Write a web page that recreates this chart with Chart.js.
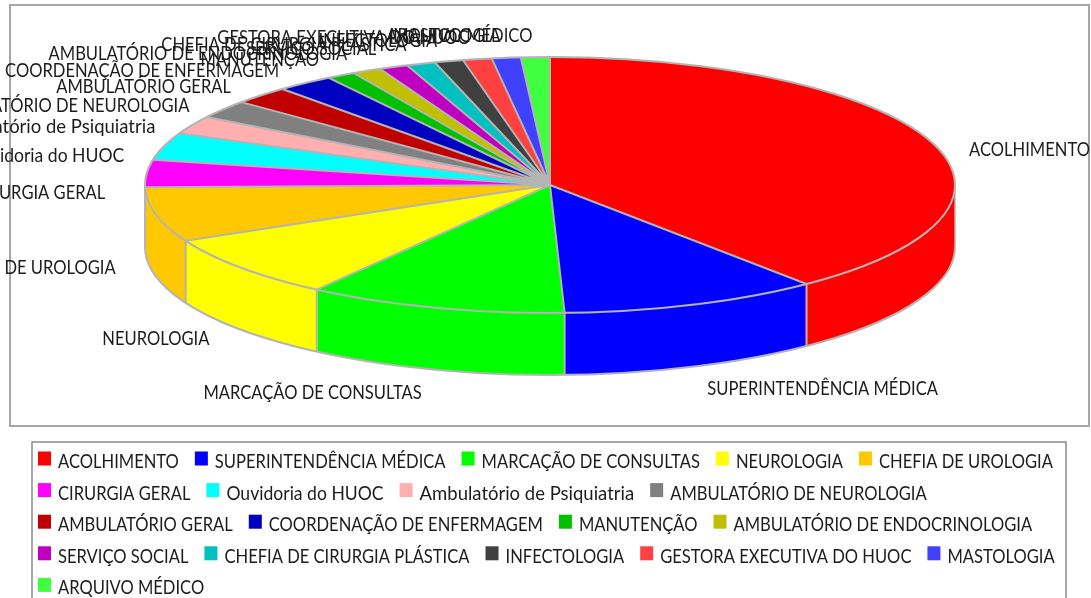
<!DOCTYPE html>
<html>
<head>
<meta charset="utf-8">
<style>html,body{margin:0;padding:0;background:#fff;overflow:hidden}canvas{display:block;filter:blur(0.4px)}</style>
<script src="https://cdn.jsdelivr.net/npm/chart.js@4"></script>
</head>
<body>
<canvas id="c" width="1091" height="598"></canvas>
<script>
const categories = ["ACOLHIMENTO","SUPERINTENDÊNCIA MÉDICA","MARCAÇÃO DE CONSULTAS","NEUROLOGIA","CHEFIA DE UROLOGIA","CIRURGIA GERAL","Ouvidoria do HUOC","Ambulatório de Psiquiatria","AMBULATÓRIO DE NEUROLOGIA","AMBULATÓRIO GERAL","COORDENAÇÃO DE ENFERMAGEM","MANUTENÇÃO","AMBULATÓRIO DE ENDOCRINOLOGIA","SERVIÇO SOCIAL","CHEFIA DE CIRURGIA PLÁSTICA","INFECTOLOGIA","GESTORA EXECUTIVA DO HUOC","MASTOLOGIA","ARQUIVO MÉDICO"];
const values = [34,9,9,7,6,3,3,2,2,2,2,1,1,1,1,1,1,1,1];
const colors = ["#ff0000","#0000ff","#00ff00","#ffff00","#ffc800","#ff00ff","#00ffff","#ffafaf","#808080","#c00000","#0000c0","#00c000","#c0c000","#c000c0","#00c0c0","#404040","#ff4040","#4040ff","#40ff40"];

const CX = 550, CY = 185, RX = 405, RY = 128, DEPTH = 62;
const LINE = "#b4b4b4", FONT = '20px Lato, "Liberation Sans", sans-serif', INK = "#1c1c1c";

// The reference face is narrower in capitals than in lower case.
function squeeze(t) {
  const letters = t.replace(/[^\p{L}]/gu, "");
  const frac = letters.replace(/\p{Lu}/gu, "").length / letters.length;
  return 0.828 + 0.115 * frac * frac;
}
function textW(c, t) { return c.measureText(t).width * squeeze(t); }
function squeezedText(c, t, x, y, align) {
  const left = align === "right" ? x - textW(c, t) : x;
  c.save();
  c.translate(left, y);
  c.scale(squeeze(t), 1);
  c.textAlign = "left";
  c.fillText(t, 0, 0);
  c.restore();
}

const pie3d = {
  id: "pie3d",
  beforeDraw(chart) {
    const c = chart.ctx;
    c.save();
    c.strokeStyle = "#a6a6a6"; c.lineWidth = 2;
    c.strokeRect(10, 5, 1079, 421);
    c.restore();
  },
  beforeDatasetsDraw(chart) {
    const c = chart.ctx, arcs = chart.getDatasetMeta(0).data, e0 = arcs[0];
    const place = (d) => { c.translate(CX, CY + d); c.scale(RX / RY, 1); c.translate(-e0.x, -e0.y); };
    for (let d = DEPTH; d >= 1; d--) {
      c.save(); place(d);
      arcs.forEach(a => a.draw(c));
      c.restore();
    }
    c.save(); place(0);
  },
  afterDatasetsDraw(chart) {
    const c = chart.ctx, arcs = chart.getDatasetMeta(0).data;
    c.restore();
    c.save();
    c.strokeStyle = LINE; c.lineWidth = 2; c.lineJoin = "round";
    c.beginPath(); c.ellipse(CX, CY + DEPTH, RX, RY, 0, 0, Math.PI); c.stroke();
    c.lineWidth = 1.5;
    c.beginPath(); c.moveTo(CX + RX, CY); c.lineTo(CX + RX, CY + DEPTH); c.moveTo(CX - RX, CY); c.lineTo(CX - RX, CY + DEPTH); c.stroke();
    c.lineWidth = 2;
    arcs.forEach(a => {
      const s = Math.sin(a.endAngle);
      if (s > 0) {
        const x = CX + RX * Math.cos(a.endAngle), y = CY + RY * s;
        c.beginPath(); c.moveTo(x, y); c.lineTo(x, y + DEPTH); c.stroke();
      }
    });
    c.beginPath();
    arcs.forEach(a => {
      c.moveTo(CX, CY);
      c.lineTo(CX + RX * Math.cos(a.startAngle), CY + RY * Math.sin(a.startAngle));
    });
    c.stroke();
    c.beginPath(); c.ellipse(CX, CY, RX, RY, 0, 0, Math.PI * 2); c.stroke();
    c.font = FONT; c.fillStyle = INK; c.textBaseline = "middle";
    arcs.forEach((a, i) => {
      const mid = (a.startAngle + a.endAngle) / 2;
      const cs = Math.cos(mid), sn = Math.sin(mid);
      const x = CX + 445 * cs - (cs < 0 ? 1.5 : 0);
      const y = 208 + 173 * sn + (sn > 0 ? 19 : 0);
      squeezedText(c, categories[i], x, y, cs >= 0 ? "left" : "right");
    });
    c.restore();
  },
  afterDraw(chart) {
    const c = chart.ctx, left = 38, limit = 1064, box = 13, gapText = 7, gapItem = 16, rowH = 31.6, top = 461;
    c.save();
    c.strokeStyle = "#8c8c8c"; c.lineWidth = 1.5;
    c.strokeRect(32, 442, 1034, 170);
    c.font = FONT; c.textBaseline = "middle";
    let x = left, row = 0;
    categories.forEach((t, i) => {
      const w = box + gapText + textW(c, t);
      if (x + w > limit && x > left) { x = left; row++; }
      const y = top + row * rowH;
      c.fillStyle = colors[i];
      c.fillRect(x, y - 9.5, box, box + 1);
      c.fillStyle = INK;
      squeezedText(c, t, x + box + gapText, y + 0.5, "left");
      x += w + gapItem;
    });
    c.restore();
  }
};

new Chart(document.getElementById("c"), {
  type: "pie",
  data: { labels: categories, datasets: [{ data: values, backgroundColor: colors, borderWidth: 0, radius: RY, clip: false }] },
  options: {
    responsive: false, animation: false, rotation: 0,
    plugins: { legend: { display: false }, tooltip: { enabled: false } }
  },
  plugins: [pie3d]
});
</script>
</body>
</html>
